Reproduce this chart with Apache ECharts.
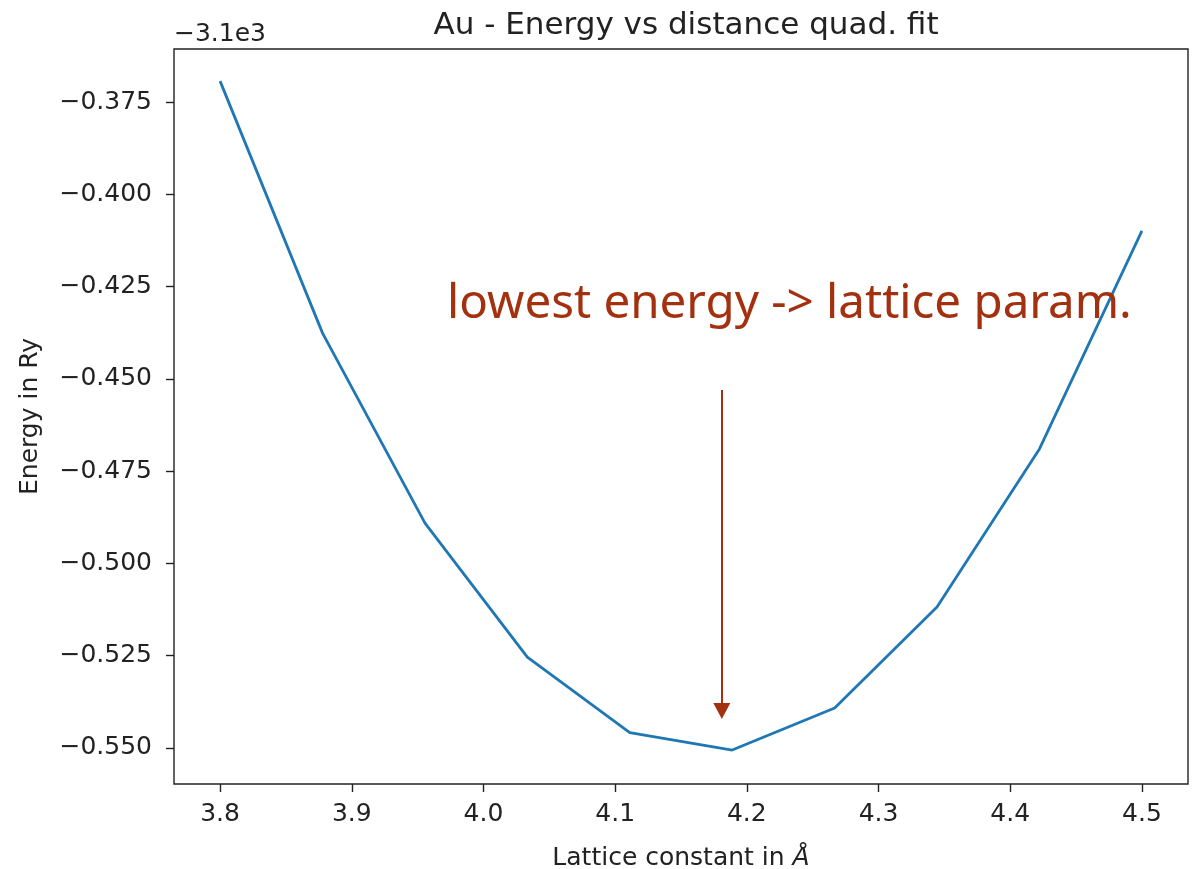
<!DOCTYPE html>
<html>
<head>
<meta charset="utf-8">
<script src="https://cdn.jsdelivr.net/npm/echarts@6/dist/echarts.min.js"></script>
<style>
  html, body { margin: 0; padding: 0; background: #fff; }
  #chart { width: 1195px; height: 869px; }
</style>
</head>
<body>
<div id="chart"></div>
<script>
// ---- data ----
const latticeConstants = [3.8, 3.8778, 3.9556, 4.0333, 4.1111, 4.1889, 4.2667, 4.3444, 4.4222, 4.5];
// energy in Ry, relative to the axis offset (-3.1e3)
const energies = [-0.3693, -0.4376, -0.4891, -0.5254, -0.5459, -0.5506, -0.5392, -0.5118, -0.4690, -0.4099];
const energyOffsetLabel = '\u22123.1e3';
const xTicks = [3.8, 3.9, 4.0, 4.1, 4.2, 4.3, 4.4, 4.5];
const yTicks = [-0.550, -0.525, -0.500, -0.475, -0.450, -0.425, -0.400, -0.375];
const titleText = 'Au - Energy vs distance quad. fit';
const annotationText = 'lowest energy -> lattice param.';
const arrowX = 4.181;
const arrowFromY = -0.453;
const arrowToY = -0.5400;

const chart = echarts.init(document.getElementById('chart'), null, { renderer: 'canvas' });
const FONT = 'DejaVu Sans';
const ANN = '#a3300f';

chart.setOption({
  animation: false,
  backgroundColor: '#ffffff',
  title: {
    text: titleText,
    left: 681,
    top: 5,
    textAlign: 'center',
    textStyle: { fontFamily: FONT, fontSize: 31, fontWeight: 'normal', color: '#222' }
  },
  grid: {
    left: 174, right: 7, top: 49, bottom: 85,
    outerBoundsMode: 'none',
    containLabel: false,
    show: true, borderColor: '#222', borderWidth: 1.4, backgroundColor: 'transparent'
  },
  xAxis: {
    type: 'value',
    min: 3.765, max: 4.535,
    splitLine: { show: false },
    axisLine: { show: false },
    axisTick: { show: true, inside: false, length: 8, customValues: xTicks, lineStyle: { color: '#222', width: 1.4 } },
    axisLabel: {
      customValues: xTicks,
      formatter: v => v.toFixed(1),
      fontFamily: FONT, fontSize: 25, color: '#222', margin: 18
    },
    name: 'Lattice constant in {i|\u00C5}',
    nameLocation: 'middle',
    nameGap: 62,
    nameTextStyle: { fontFamily: FONT, fontSize: 25, color: '#222',
      rich: { i: { fontFamily: FONT, fontSize: 25, fontStyle: 'italic', color: '#222' } } }
  },
  yAxis: {
    type: 'value',
    min: -0.5598, max: -0.3606,
    splitLine: { show: false },
    axisLine: { show: false },
    axisTick: { show: true, inside: false, length: 8, customValues: yTicks, lineStyle: { color: '#222', width: 1.4 } },
    axisLabel: {
      customValues: yTicks,
      formatter: v => (v < 0 ? '\u2212' : '') + Math.abs(v).toFixed(3),
      fontFamily: FONT, fontSize: 25, color: '#222', margin: 22
    },
    name: 'Energy in Ry',
    nameLocation: 'middle',
    nameGap: 131,
    nameRotate: 90,
    nameTextStyle: { fontFamily: FONT, fontSize: 25, color: '#222' }
  },
  graphic: [
    {
      type: 'text', left: 174, top: 22,
      style: { text: energyOffsetLabel, font: '25px "DejaVu Sans"', fill: '#222' }
    },
    {
      type: 'text', left: 447, top: 280, z: 10,
      style: { text: annotationText, font: '47.5px "Comic Sans MS", "Noto Sans", sans-serif', fill: ANN }
    }
  ],
  series: [{
    type: 'line',
    data: latticeConstants.map((x, i) => [x, energies[i]]),
    showSymbol: false,
    lineStyle: { color: '#1f77b4', width: 2.8 },
    itemStyle: { color: '#1f77b4' },
    markLine: {
      silent: true,
      symbol: ['none', 'triangle'],
      symbolSize: [17, 16],
      label: { show: false },
      lineStyle: { color: ANN, width: 2, type: 'solid' },
      itemStyle: { color: ANN },
      data: [[{ coord: [arrowX, arrowFromY] }, { coord: [arrowX, arrowToY] }]]
    }
  }]
});
</script>
</body>
</html>
